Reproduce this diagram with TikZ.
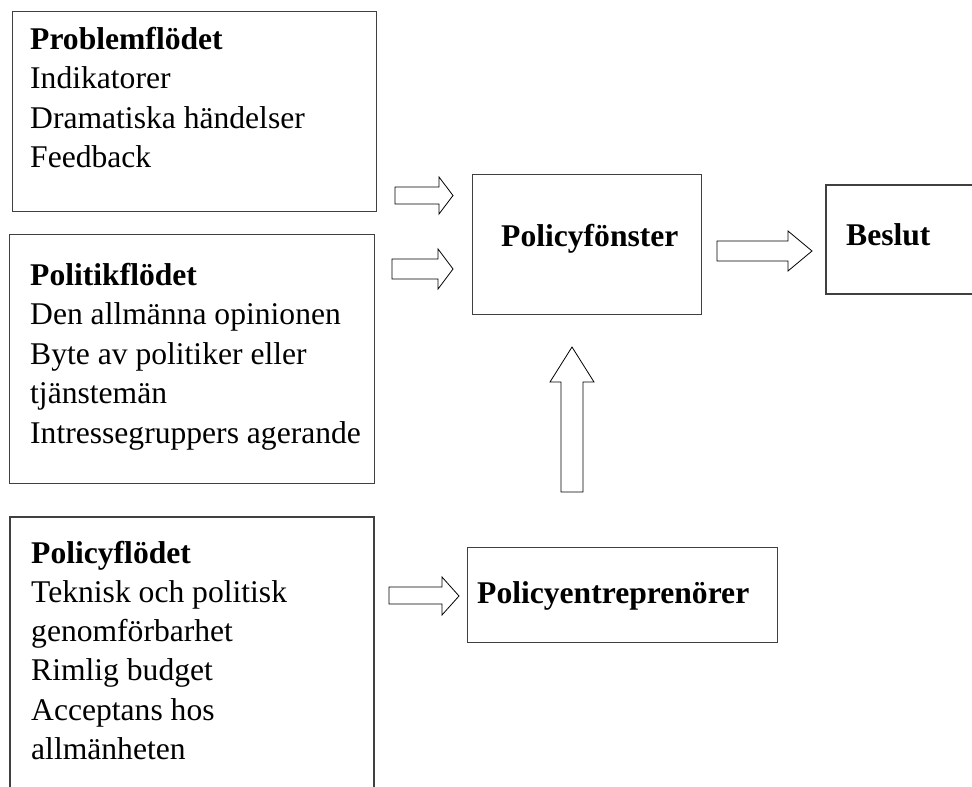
\documentclass[tikz,border=0pt]{standalone}
\usepackage{fontspec}
\setmainfont{Liberation Serif}
\begin{document}
\begin{tikzpicture}[x=1pt,y=-1pt,
  box/.style={draw=black!75, line width=1.1pt, inner sep=0pt, anchor=north west},
  openbox/.style={draw=black!75, line width=1.1pt},
  blk/.style={draw=black, line width=0.8pt, fill=white, line join=miter},
  txt/.style={anchor=base west, inner sep=0pt, font=\fontsize{31.6}{39.5}\selectfont},
]
\useasboundingbox (0,0) rectangle (972,787);

% boxes
\node[box, minimum width=364pt, minimum height=200pt] (prob) at (12,11) {};
\node[box, minimum width=365pt, minimum height=249pt] (poli) at (9,234) {};
\coordinate (pf1) at (10,787);
\coordinate (pf2) at (10,517);
\coordinate (pf3) at (374,517);
\coordinate (pf4) at (374,787);
\draw[openbox] (pf1) -- (pf2) -- (pf3) -- (pf4);
\node[box, minimum width=229pt, minimum height=140pt] (fonster) at (472,174) {};
\coordinate (b1) at (972,185);
\coordinate (b2) at (826,185);
\coordinate (b3) at (826,294);
\coordinate (b4) at (972,294);
\draw[openbox] (b1) -- (b2) -- (b3) -- (b4);
\node[box, minimum width=310pt, minimum height=95pt] (entre) at (467,547) {};

% texts
\node[txt] (probt) at (30,49.3) {\begin{tabular}[t]{@{}l@{}}\textbf{Problemflödet}\\Indikatorer\\Dramatiska händelser\\Feedback\end{tabular}};
\node[txt] (polit) at (30,285) {\begin{tabular}[t]{@{}l@{}}\textbf{Politikflödet}\\Den allmänna opinionen\\Byte av politiker eller\\tjänstemän\\Intressegruppers agerande\end{tabular}};
\node[txt, font=\fontsize{31.6}{39.3}\selectfont] (pflt) at (31,563) {\begin{tabular}[t]{@{}l@{}}\textbf{Policyflödet}\\Teknisk och politisk\\genomförbarhet\\Rimlig budget\\Acceptans hos\\allmänheten\end{tabular}};
\node[txt] (fonstert) at (501,246) {\textbf{Policyfönster}};
\node[txt] (beslutt) at (846,245) {\textbf{Beslut}};
\node[txt] (entret) at (477,603) {\textbf{Policyentreprenörer}};

% block arrows
\draw[blk] (395,187) -- (439,187) -- (439,177) -- (453,195.5) -- (439,214) -- (439,204) -- (395,204) -- cycle;
\draw[blk] (392,259) -- (438,259) -- (438,249) -- (453,269) -- (438,289) -- (438,279) -- (392,279) -- cycle;
\draw[blk] (717,241) -- (788,241) -- (788,231) -- (812,251) -- (788,271) -- (788,261) -- (717,261) -- cycle;
\draw[blk] (389,587) -- (442,587) -- (442,577) -- (459,596) -- (442,615) -- (442,604) -- (389,604) -- cycle;
\draw[blk] (561,492) -- (561,382) -- (550,382) -- (572,347) -- (594,382) -- (583,382) -- (583,492) -- cycle;
\end{tikzpicture}
\end{document}
